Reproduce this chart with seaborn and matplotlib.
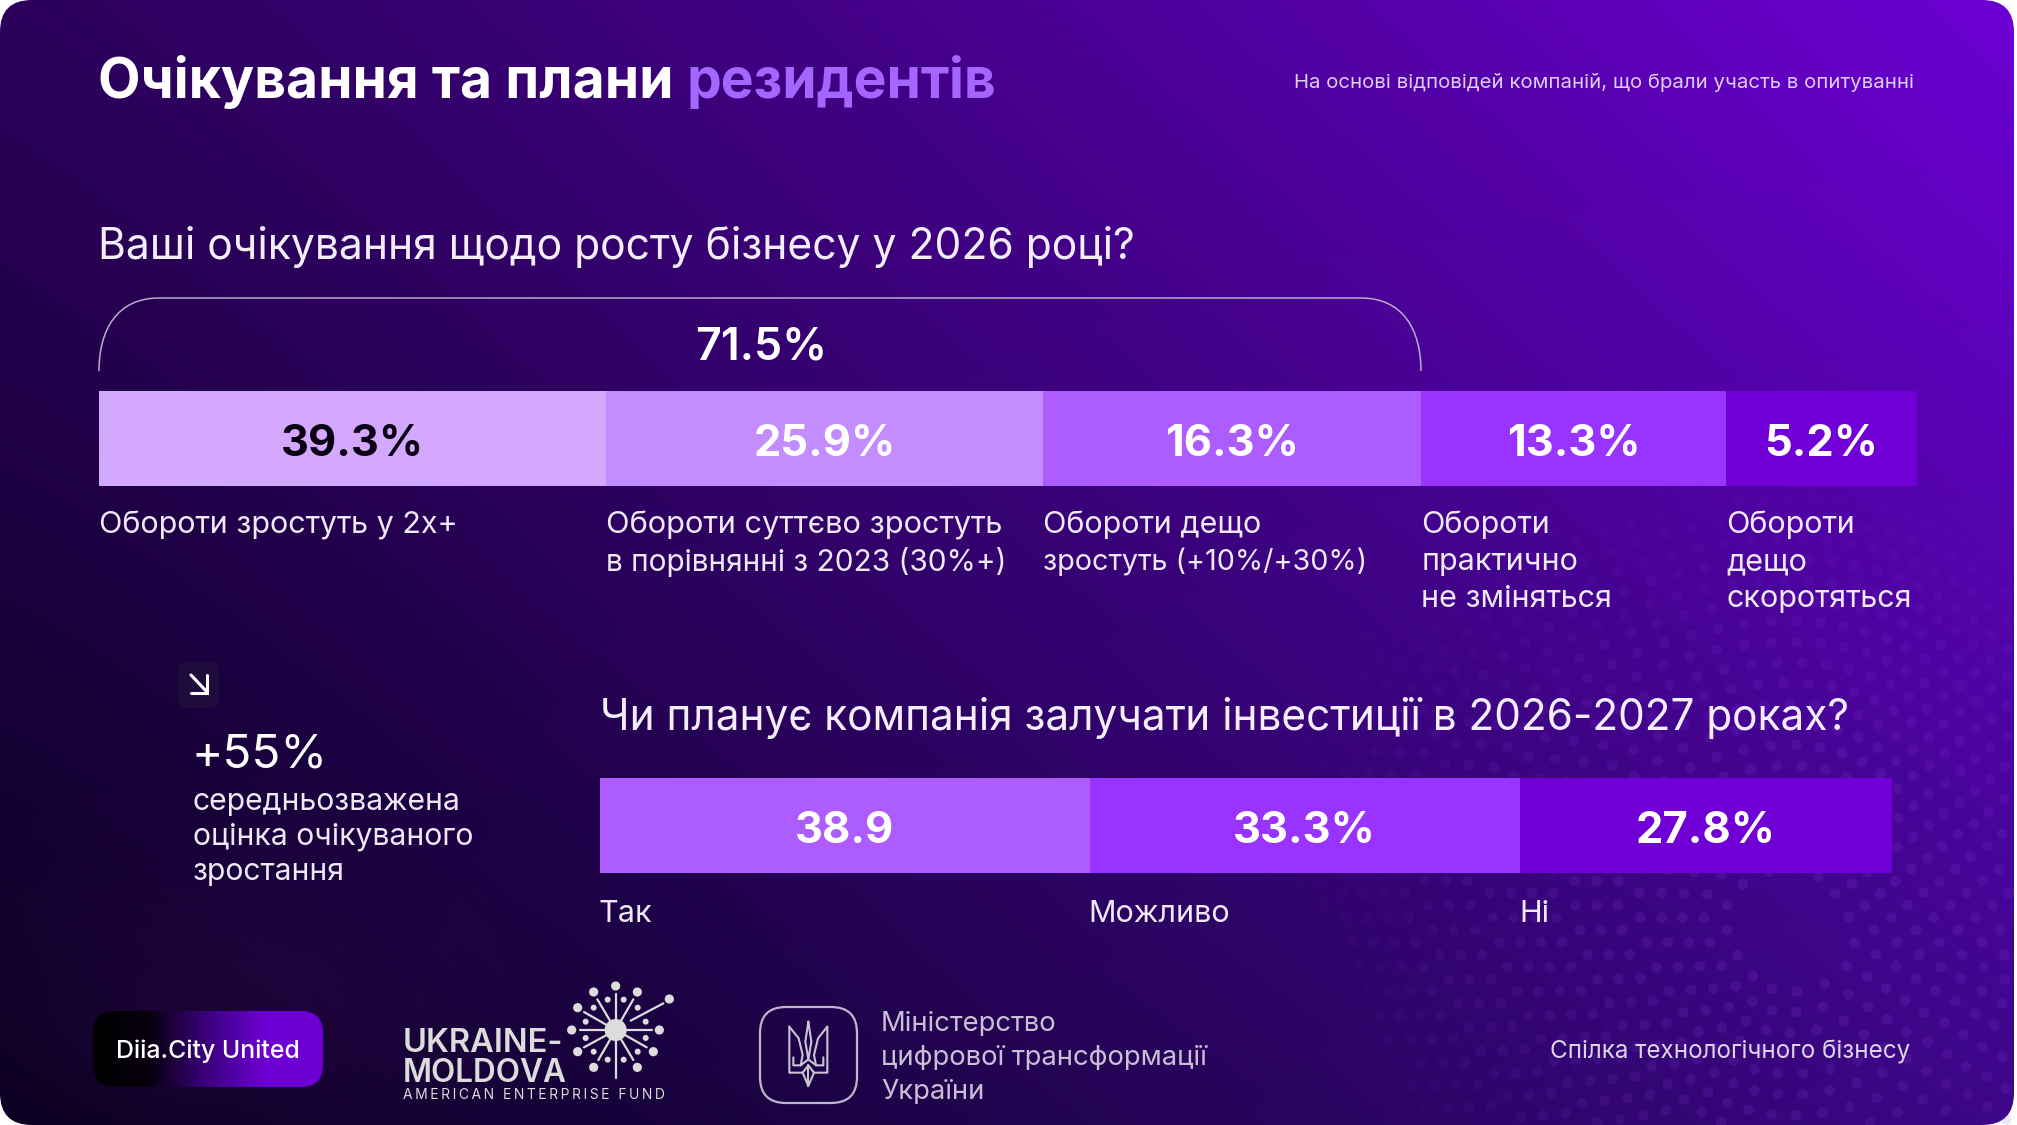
import numpy as np
import matplotlib
matplotlib.use("Agg")
import matplotlib.pyplot as plt
import seaborn as sns
from matplotlib.font_manager import FontProperties
from matplotlib.patches import FancyBboxPatch, PathPatch, Circle
from matplotlib.path import Path
from matplotlib.textpath import TextPath
from matplotlib.colors import to_rgb, LinearSegmentedColormap

# ---- data -------------------------------------------------------------
title_white = "Очікування та плани"
title_accent = "резидентів"
subtitle = "На основі відповідей компаній, що брали участь в опитуванні"
question_growth = "Ваші очікування щодо росту бізнесу у 2026 році?"
question_invest = "Чи планує компанія залучати інвестиції в 2026-2027 роках?"
bracket_label = "71.5%"

growth_labels = ["39.3%", "25.9%", "16.3%", "13.3%", "5.2%"]
# lengths of the segments as drawn in the picture (not proportional to labels there)
growth_lengths = [27.9, 24.1, 20.8, 16.8, 10.5]
growth_colors = ["#d4a8ff", "#c48dff", "#ad5cff", "#9933ff", "#7000d6"]
growth_text_colors = ["#0a0014", "white", "white", "white", "white"]
growth_captions = [
    "Обороти зростуть у 2x+",
    "Обороти суттєво зростуть\nв порівнянні з 2023 (30%+)",
    "Обороти дещо\nзростуть (+10%/+30%)",
    "Обороти\nпрактично\nне зміняться",
    "Обороти\nдещо\nскоротяться",
]

invest_labels = ["38.9", "33.3%", "27.8%"]
invest_lengths = [37.9, 33.3, 28.8]
invest_colors = ["#ad5cff", "#9933ff", "#7000d6"]
invest_captions = ["Так", "Можливо", "Ні"]

callout_value = "+55%"
callout_lines = ["середньозважена", "оцінка очікуваного", "зростання"]
ministry_lines = ["Міністерство", "цифрової трансформації", "України"]

# ---- set-up -----------------------------------------------------------
W, H, DPI = 2017, 1125, 100
sns.set_theme(style="white")
FAM = ["Inter", "DejaVu Sans"]
plt.rcParams["font.family"] = FAM
fig = plt.figure(figsize=(W / DPI, H / DPI), dpi=DPI, facecolor="white")


def px_axes(x0, y0, x1, y1, z):
    return fig.add_axes([x0 / W, 1 - y1 / H, (x1 - x0) / W, (y1 - y0) / H], zorder=z)


def size_for(s, width_px, weight="normal"):
    fp = FontProperties(family=FAM, weight=weight)
    ext = TextPath((0, 0), s, size=100, prop=fp).get_extents()
    return 100 * width_px / (ext.width * DPI / 72)


# ---- background --------------------------------------------------------
bg = px_axes(0, 0, W, H, 0)
bg.set_xlim(0, W)
bg.set_ylim(H, 0)
bg.axis("off")
tl, tr, bl, br = [np.array(to_rgb(c)) for c in ("#2c005c", "#6c00d4", "#0a0020", "#3d0788")]
yy, xx = np.mgrid[0:1:300j, 0:1:500j]
u, v = xx[..., None] ** 1.15, yy[..., None]
grad = (1 - v) * ((1 - u) * tl + u * tr) + v * ((1 - u) * bl + u * br)
card = FancyBboxPatch((0, 0), W - 3, H, boxstyle="round,pad=0,rounding_size=32",
                      transform=bg.transData, fc="none", ec="none")
bg.add_patch(card)
im = bg.imshow(grad, extent=(0, W, H, 0), aspect="auto", interpolation="bilinear", zorder=0)
im.set_clip_path(card)

# soft glow, bottom left
gy, gx = np.mgrid[0:H:120j, 0:700:120j]
glow = np.zeros(gx.shape + (4,))
glow[..., :3] = to_rgb("#5a1a6a")
glow[..., 3] = 0.14 * np.exp(-(((gx - 240) / 260) ** 2 + ((gy - 1000) / 150) ** 2))
gl = bg.imshow(glow, extent=(0, 700, H, 0), aspect="auto", interpolation="bilinear", zorder=0.5)
gl.set_clip_path(card)
bg.set_xlim(0, W)
bg.set_ylim(H, 0)

# decorative dotted sphere, bottom right
cx, cy = 1790.0, 930.0
px_dots, py_dots, a_dots = [], [], []
for ring in range(3, 24):
    r = ring * 21.0
    n = int(2 * np.pi * r / 25)
    for k in range(n):
        th = 2 * np.pi * (k + 0.5 * (ring % 2)) / n
        sx = cx + r * np.cos(th) * (1 + 0.12 * np.sin(2 * th))
        sy = cy + r * np.sin(th) * 0.98
        if sx < 2012 and sy < 1123:
            px_dots.append(sx)
            py_dots.append(sy)
            a_dots.append(max(0.0, 0.17 * (1 - (r / 480) ** 2)) + 0.02)
rgba = np.zeros((len(px_dots), 4))
rgba[:, :3] = to_rgb("#8a3fe0")
rgba[:, 3] = a_dots
bg.scatter(px_dots, py_dots, s=60, c=rgba, linewidths=0, zorder=1)


# ---- stacked bars ------------------------------------------------------
def stacked(box, lengths, labels, colors, text_colors, fs):
    ax = px_axes(*box, 1)
    left = 0.0
    for i, (ln, col, lab, tc) in enumerate(zip(lengths, colors, labels, text_colors)):
        before = len(ax.containers)
        sns.barplot(x=[ln], y=["s"], left=left, color=col, saturation=1, width=1.0,
                    orient="h", linewidth=0, ax=ax)
        for t in ax.bar_label(ax.containers[before], labels=[lab], label_type="center",
                              color=tc, fontsize=fs, fontweight="bold", family=FAM):
            t.xyann = (0, -4.6)
        left += ln
    ax.set_xlim(0, sum(lengths))
    ax.set_ylim(0.5, -0.5)
    ax.axis("off")
    ax.patch.set_alpha(0)


bar_fs = size_for("39.3%", 137, "bold")
stacked((99, 391, 1917, 486), growth_lengths, growth_labels, growth_colors, growth_text_colors, bar_fs)
stacked((600, 778, 1892, 873), invest_lengths, invest_labels, invest_colors, ["white"] * 3, bar_fs)

# ---- overlay of text and logos ----------------------------------------
ov = px_axes(0, 0, W, H, 2)
ov.set_xlim(0, W)
ov.set_ylim(H, 0)
ov.axis("off")
ov.patch.set_alpha(0)


def txt(x, y, s, fs, color="white", weight="normal", ha="left", **kw):
    return ov.text(x, y + 4, s, fontsize=fs, color=color, fontweight=weight, ha=ha,
                   va="center", family=FAM, **kw)


title_fs = size_for(title_white, 569, "bold")
txt(98, 78, title_white, title_fs, weight="bold")
txt(686, 78, title_accent, title_fs, color="#a566ff", weight="bold")
txt(1294, 78, subtitle, size_for(subtitle, 615), color="#dccdf5")

txt(98, 243, question_growth, size_for(question_growth, 1032), color="#f4eefc")
txt(600, 714, question_invest, size_for(question_invest, 1246), color="#f4eefc")

# bracket
x0, x1, yt, yb = 99, 1421, 298, 371
verts = [(x0, yb), (x0, 330), (x0 + 18, yt), (x0 + 60, yt), (x1 - 60, yt),
         (x1 - 18, yt), (x1, 330), (x1, yb)]
codes = [Path.MOVETO, Path.CURVE4, Path.CURVE4, Path.CURVE4, Path.LINETO,
         Path.CURVE4, Path.CURVE4, Path.CURVE4]
ov.add_patch(PathPatch(Path(verts, codes), fc="none", ec="#b9acc9", lw=1.1))
txt(761, 343, bracket_label, size_for(bracket_label, 126, "semibold"), weight="semibold", ha="center")

# captions
cap_fs = size_for(growth_captions[0], 355)
# lines whose digits run wide in this font are fitted to the width they have in the picture
fitted_lines = {"в порівнянні з 2023 (30%+)": 396, "зростуть (+10%/+30%)": 320,
                "Обороти суттєво зростуть": 394}
growth_x = np.r_[0, np.cumsum(growth_lengths)[:-1]] / sum(growth_lengths) * 1818 + 99
for x, cap in zip(growth_x, growth_captions):
    for j, line in enumerate(cap.split("\n")):
        fs = size_for(line, fitted_lines[line]) if line in fitted_lines else cap_fs
        txt(x, 521 + j * 37, line, fs, color="#efe8f7")
invest_x = np.r_[0, np.cumsum(invest_lengths)[:-1]] / sum(invest_lengths) * 1292 + 600
for x, cap in zip(invest_x, invest_captions):
    txt(x - 1, 910, cap, cap_fs, color="#efe8f7")

# call-out
ov.add_patch(FancyBboxPatch((178, 662), 41, 46, boxstyle="round,pad=0,rounding_size=9",
                            fc="#1f0c3c", ec="none"))
ov.plot([191, 207], [675, 692], color="white", lw=2.2, solid_capstyle="round")
ov.plot([191, 207, 207], [693, 693, 675], color="white", lw=2.2, solid_capstyle="round",
        solid_joinstyle="miter")
txt(191, 751, callout_value, size_for(callout_value, 126))
call_fs = size_for(callout_lines[1], 277)
for y, line in zip((798, 833, 868), callout_lines):
    txt(193, y, line, call_fs, color="#efe8f7")

# Diia.City pill
pill = FancyBboxPatch((93, 1011), 230, 76, boxstyle="round,pad=0,rounding_size=22",
                      fc="none", ec="none")
ov.add_patch(pill)
cm = LinearSegmentedColormap.from_list("pill", ["#000000", "#07000f", "#3d0080", "#6c00d4", "#6c00d4"])
pi = ov.imshow(np.linspace(0, 1, 256)[None, :], extent=(93, 323, 1087, 1011), cmap=cm,
               aspect="auto")
pi.set_clip_path(pill)
ov.set_xlim(0, W)
ov.set_ylim(H, 0)
txt(208, 1047, "Diia.City United", size_for("Diia.City United", 180, "medium"), weight="medium", ha="center")

# Ukraine-Moldova logo (coordinates in a local logo space)
LOGO = "#dcdcdc"
def lx(a):
    return 380 + a / 3
def ly(b):
    return 970 + b / 3
spokes = [((707, 72), (707, 325)), ((600, 180), (815, 180)), ((652, 88), (760, 270)),
          ((760, 88), (655, 270)), ((612, 126), (680, 165)), ((850, 100), (752, 152)),
          ((735, 195), (800, 232)), ((612, 232), (680, 195))]
for (a, b), (c, d) in spokes:
    ov.plot([lx(a), lx(c)], [ly(b), ly(d)], color=LOGO, lw=1.6, solid_capstyle="round")
big = [(707, 48), (641, 66), (772, 66), (868, 87), (593, 113), (575, 180), (838, 180),
       (593, 245), (820, 245), (641, 292), (772, 292)]
small = [(683, 89), (731, 89), (641, 113), (773, 113), (617, 155), (797, 155), (617, 204),
         (797, 204), (641, 245), (773, 245), (683, 269), (731, 269)]
for a, b in big:
    ov.add_patch(Circle((lx(a), ly(b)), 4.6, fc=LOGO, ec="none"))
for a, b in small:
    ov.add_patch(Circle((lx(a), ly(b)), 3.0, fc=LOGO, ec="none"))
ov.add_patch(Circle((lx(707), ly(180)), 11, fc=LOGO, ec="none"))
txt(403, 1039, "UKRAINE-", size_for("UKRAINE-", 156, "semibold"), color=LOGO, weight="semibold")
txt(403, 1069, "MOLDOVA", size_for("MOLDOVA", 161, "semibold"), color=LOGO, weight="semibold")
fund = "\u2009".join("AMERICAN ENTERPRISE FUND")
txt(403, 1091, fund, size_for(fund, 261), color=LOGO)

# Ministry logo
ov.add_patch(FancyBboxPatch((760, 1007), 97, 96, boxstyle="round,pad=0,rounding_size=26",
                            fc="none", ec="#bdb6c8", lw=1.6))
trident = [
    [(1228, 170), (1228, 308), (1268, 308), (1285, 348), (1302, 308), (1342, 308), (1342, 170)],
    [(1228, 170), (1256, 205), (1268, 255), (1262, 286), (1240, 286), (1240, 262)],
    [(1342, 170), (1314, 205), (1302, 255), (1308, 286), (1330, 286), (1330, 262)],
    [(1285, 155), (1276, 215), (1285, 268), (1294, 215), (1285, 155)],
    [(1262, 286), (1285, 268), (1308, 286)],
    [(1268, 308), (1285, 286), (1302, 308)],
    [(1285, 286), (1285, 348)],
]
for poly in trident:
    ov.plot([lx(p[0]) for p in poly], [ly(p[1]) for p in poly], color="#c9c3d2", lw=1.5)
min_fs = size_for(ministry_lines[1], 325)
for y, line in zip((1020, 1054, 1088), ministry_lines):
    txt(881, y, line, min_fs, color="#c9c0d6")

union = "Спілка технологічного бізнесу"
txt(1550, 1048, union, size_for(union, 358), color="#dcd4e6")

fig.savefig("out.png", dpi=DPI, facecolor="white")
